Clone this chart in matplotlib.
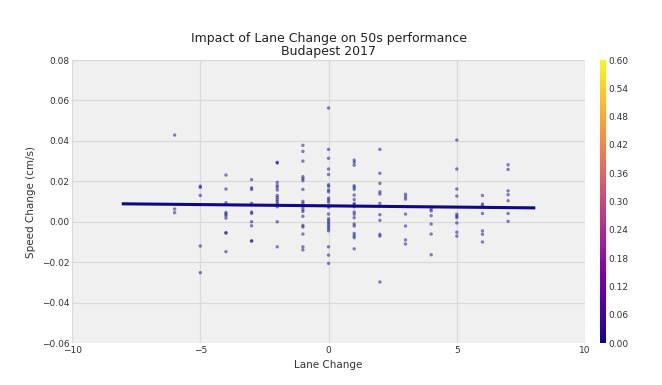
import numpy as np
import matplotlib
matplotlib.use("Agg")
import matplotlib.pyplot as plt

# Lane change value -> list of observed speed changes (cm/s)
lane_values = [-6, -5, -4, -3, -2, -1, 0, 1, 2, 3, 4, 5, 6, 7]
speed_by_lane = [
    [0.0429, 0.0063, 0.0045],
    [0.0176, 0.0170, 0.0130, -0.0120, -0.0252],
    [0.0231, 0.0162, 0.0094, 0.0046, 0.0038, 0.0030, 0.0018, -0.0054, -0.0056, -0.0148],
    [0.0208, 0.0168, 0.0160, 0.0091, 0.0048, 0.0041, 0.0000, -0.0020, -0.0094, -0.0096],
    [0.0294, 0.0291, 0.0195, 0.0180, 0.0170, 0.0157, 0.0130, 0.0120, 0.0110, 0.0100, 0.0090, 0.0074, 0.0000, -0.0124],
    [0.0378, 0.0348, 0.0300, 0.0223, 0.0213, 0.0203, 0.0160, 0.0101, 0.0091, 0.0074, 0.0061, 0.0051, 0.0027,
     -0.0018, -0.0026, -0.0061, -0.0124, -0.0139],
    [0.0563, 0.0358, 0.0314, 0.0261, 0.0234, 0.0183, 0.0175, 0.0157, 0.0148, 0.0117, 0.0107, 0.0097, 0.0078,
     0.0072, 0.0038, 0.0015, 0.0005, -0.0005, -0.0015, -0.0025, -0.0035, -0.0045, -0.0124, -0.0165, -0.0206],
    [0.0305, 0.0294, 0.0280, 0.0178, 0.0170, 0.0160, 0.0132, 0.0110, 0.0091, 0.0084, 0.0074, 0.0048, 0.0037,
     0.0020, -0.0011, -0.0021, -0.0058, -0.0069, -0.0079, -0.0134],
    [0.0358, 0.0240, 0.0190, 0.0148, 0.0137, 0.0091, 0.0035, 0.0007, -0.0062, -0.0071, -0.0298],
    [0.0136, 0.0124, 0.0112, 0.0038, -0.0021, -0.0090, -0.0110],
    [0.0063, 0.0054, 0.0030, -0.0011, -0.0061, -0.0163],
    [0.0404, 0.0261, 0.0162, 0.0127, 0.0037, 0.0028, 0.0020, -0.0006, -0.0052, -0.0071],
    [0.0130, 0.0088, 0.0079, 0.0041, -0.0045, -0.0062, -0.0100],
    [0.0282, 0.0259, 0.0153, 0.0134, 0.0104, 0.0041, 0.0002],
]
fit_range = [-8, 8]
x_ticks = [-10, -5, 0, 5, 10]
y_ticks = [-0.06, -0.04, -0.02, 0.00, 0.02, 0.04, 0.06, 0.08]
cbar_ticks = [0.00, 0.06, 0.12, 0.18, 0.24, 0.30, 0.36, 0.42, 0.48, 0.54, 0.60]

x = np.concatenate([[lv] * len(s) for lv, s in zip(lane_values, speed_by_lane)]).astype(float)
y = np.concatenate(speed_by_lane)
cvals = np.zeros_like(y)

fig = plt.figure(figsize=(6.62, 3.85), dpi=100)
ax = fig.add_axes([0.1088, 0.109, 0.775, 0.735])
ax.set_facecolor("#f0f0f0")
for s in ax.spines.values():
    s.set_visible(False)
ax.grid(True, color="#dadada", linewidth=0.9)
ax.set_axisbelow(True)

sc = ax.scatter(x, y, c=cvals, cmap="plasma", vmin=0, vmax=0.6, s=6, alpha=0.5, linewidths=0)

coef = np.polyfit(x, y, 1)
xf = np.linspace(fit_range[0], fit_range[1], 50)
ax.plot(xf, np.polyval(coef, xf), color="#0d0887", linewidth=2.2)

ax.set_xlim(-10, 10)
ax.set_ylim(-0.06, 0.08)
ax.set_xticks(x_ticks)
ax.set_yticks(y_ticks)
ax.set_yticklabels([f"{v:.2f}".replace("-", "\u2212") for v in y_ticks])
ax.tick_params(length=0, labelsize=6.5, colors="#333333", pad=2)
ax.set_xlabel("Lane Change", fontsize=7.5, color="#333333", labelpad=4)
ax.set_ylabel("Speed Change (cm/s)", fontsize=7.5, color="#333333", labelpad=4)
ax.set_title("Impact of Lane Change on 50s performance\nBudapest 2017", fontsize=9, color="#222222",
             linespacing=1.0, pad=4)

cax = fig.add_axes([0.906, 0.109, 0.009, 0.735])
cb = fig.colorbar(sc, cax=cax, ticks=cbar_ticks)
cb.outline.set_visible(False)
cb.solids.set_alpha(1)
cax.tick_params(length=0, labelsize=6.5, colors="#333333", pad=2)
cb.ax.set_yticklabels([f"{v:.2f}" for v in cbar_ticks])

fig.savefig("out.png", dpi=100)
